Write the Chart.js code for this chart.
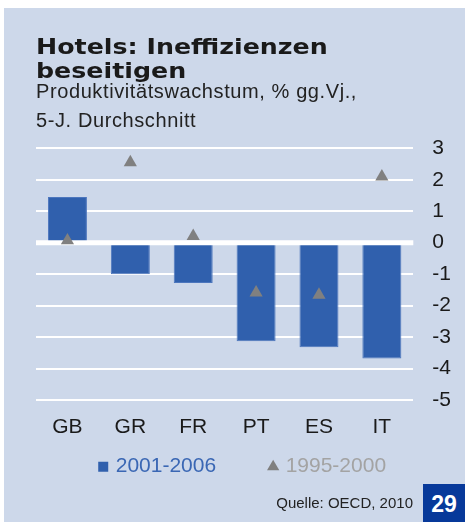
<!DOCTYPE html>
<html>
<head>
<meta charset="utf-8">
<script src="https://cdn.jsdelivr.net/npm/chart.js@4.4.1/dist/chart.umd.min.js"></script>
<style>
  html, body { margin: 0; padding: 0; background: #ffffff; }
  #panel { position: absolute; left: 4px; top: 8px; width: 461px; height: 514px; background: #cdd8ea; overflow: hidden; }
  #chart { position: absolute; left: 0; top: 0; }
  .title { position: absolute; left: 32px; top: 27px; font: bold 22px "DejaVu Sans", sans-serif; line-height: 24px; transform: scaleX(1.15); transform-origin: 0 0; color: #1a1a1a; white-space: nowrap; }
  .sub { position: absolute; left: 32px; top: 68.7px; font: 20px "Liberation Sans", Arial, sans-serif; line-height: 29.4px; letter-spacing: 0.6px; color: #222; white-space: nowrap; }
  .source { position: absolute; right: 52px; top: 486px; font: 15px "Liberation Sans", Arial, sans-serif; color: #222; white-space: nowrap; }
  .page { position: absolute; left: 419px; top: 476px; width: 42px; height: 38px; background: #07399a; color: #fff; font: bold 23px "Liberation Sans", Arial, sans-serif; line-height: 40px; text-align: center; }
</style>
</head>
<body>
<div id="panel">
  <canvas id="chart" width="461" height="514"></canvas>
  <div class="title">Hotels: Ineffizienzen<br>beseitigen</div>
  <div class="sub">Produktivitätswachstum, % gg.Vj.,<br>5-J. Durchschnitt</div>
  <div class="source">Quelle: OECD, 2010</div>
  <div class="page">29</div>
</div>
<script>
  var countries = ['GB', 'GR', 'FR', 'PT', 'ES', 'IT']
  var recent = [1.45, -1.0, -1.28, -3.13, -3.32, -3.68]      // 2001-2006
  var earlier = [0.07, 2.55, 0.21, -1.59, -1.66, 2.1]        // 1995-2000
  var yTicks = [3, 2, 1, 0, -1, -2, -3, -4, -5]

  var blue = '#3060ad'
  var grey = '#808080'

  // thick white zero line over the bars, under the triangles
  var zeroLine = {
    id: 'zeroLine',
    afterDatasetDraw: function (chart, args) {
      if (args.index !== 0) return
      var ctx = chart.ctx
      var area = chart.chartArea
      var y = chart.scales.y.getPixelForValue(0)
      ctx.save()
      ctx.strokeStyle = '#ffffff'
      ctx.lineWidth = 5
      ctx.beginPath()
      ctx.moveTo(area.left, y)
      ctx.lineTo(area.right, y)
      ctx.stroke()
      ctx.restore()
    }
  }

  var barChartData = {
    labels: countries,
    datasets: [
      {
        type           : 'bar',
        label          : '2001-2006',
        data           : recent,
        backgroundColor: blue,
        borderColor    : '#4c76bd',
        borderWidth    : 1,
        barPercentage  : 0.62,
        categoryPercentage: 1,
        order          : 1
      },
      {
        type           : 'line',
        label          : '1995-2000',
        data           : earlier,
        showLine       : false,
        pointStyle     : 'triangle',
        pointRadius    : 7.6,
        pointHoverRadius: 7.6,
        pointBackgroundColor: grey,
        pointBorderWidth: 0,
        order          : 0
      }
    ]
  }

  var legendColors = [
    { fill: blue, text: '#3a67b4', style: 'rect' },
    { fill: '#7f7f7f', text: '#a3a3a3', style: 'triangle' }
  ]

  var barChartOptions = {
    responsive         : false,
    animation          : false,
    layout: { padding: { top: 140.3, left: 32, right: 13.7, bottom: 34.8 } },
    plugins: {
      tooltip: { enabled: false },
      title: { display: false },
      legend: {
        position: 'bottom',
        labels: {
          usePointStyle: true,
          boxWidth: 4,
          boxHeight: 10,
          padding: 55,
          font: { family: '"Liberation Sans", Arial, sans-serif', size: 21 },
          generateLabels: function (chart) {
            return chart.data.datasets.map(function (ds, i) {
              return {
                text: ds.label,
                fillStyle: legendColors[i].fill,
                strokeStyle: legendColors[i].fill,
                lineWidth: 0,
                pointStyle: legendColors[i].style,
                fontColor: legendColors[i].text,
                datasetIndex: i,
                hidden: false
              }
            })
          }
        }
      }
    },
    scales: {
      x: {
        grid: { display: false, drawTicks: false },
        border: { display: false },
        ticks: {
          color: '#1a1a1a',
          mirror: true,
          padding: -40,
          font: { family: '"Liberation Sans", Arial, sans-serif', size: 21 }
        },
        afterFit: function (scale) { scale.height = 1.2 }
      },
      y: {
        position: 'right',
        min: -5,
        max: 3,
        afterBuildTicks: function (scale) {
          scale.ticks = yTicks.map(function (v) { return { value: v } })
        },
        afterFit: function (scale) { scale.width = 38 },
        grid: { color: '#ffffff', lineWidth: 2, drawTicks: false },
        border: { display: false },
        ticks: {
          color: '#1a1a1a',
          padding: 19,
          font: { family: '"Liberation Sans", Arial, sans-serif', size: 21 }
        }
      }
    }
  }

  var barChartCanvas = document.getElementById('chart').getContext('2d')
  var barChart = new Chart(barChartCanvas, {
    type: 'bar',
    data: barChartData,
    options: barChartOptions,
    plugins: [zeroLine]
  })
</script>
</body>
</html>
